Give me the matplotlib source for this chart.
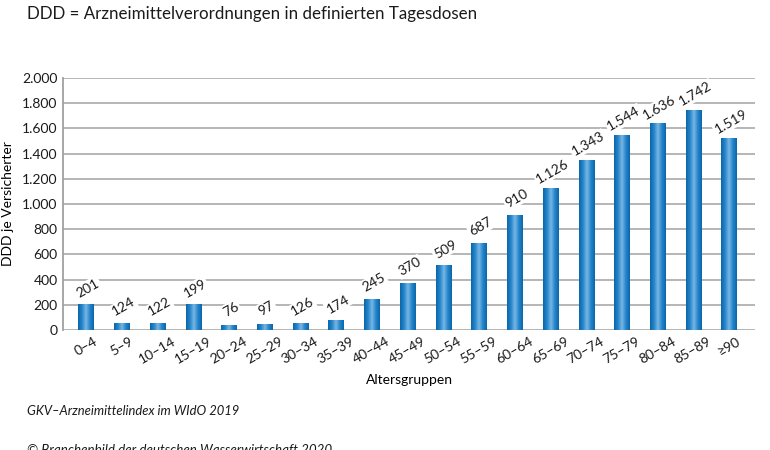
import numpy as np
import matplotlib
matplotlib.use("Agg")
import matplotlib.pyplot as plt
from matplotlib.colors import LinearSegmentedColormap

# ================================================== Data ==============================================================
age_groups = ["0\u20134", "5\u20139", "10\u201314", "15\u201319", "20\u201324", "25\u201329", "30\u201334", "35\u201339",
              "40\u201344", "45\u201349", "50\u201354", "55\u201359", "60\u201364", "65\u201369", "70\u201374", "75\u201379",
              "80\u201384", "85\u201389", "\u226590"]
# heights as drawn in the source picture (the low groups are drawn shorter than their labels)
bar_heights = [201, 53, 52, 199, 32, 41, 53, 74, 245, 370, 509, 687, 910, 1126, 1343, 1544, 1636, 1742, 1519]
value_labels = ["201", "124", "122", "199", "76", "97", "126", "174", "245", "370", "509", "687", "910",
                "1.126", "1.343", "1.544", "1.636", "1.742", "1.519"]
y_ticks = [0, 200, 400, 600, 800, 1000, 1200, 1400, 1600, 1800, 2000]
y_tick_labels = ["0", "200", "400", "600", "800", "1.000", "1.200", "1.400", "1.600", "1.800", "2.000"]

plt.rcParams['font.family'] = ['Lato', 'DejaVu Sans']

fig = plt.figure(figsize=(7.7, 4.5), dpi=100)
ax = fig.add_axes([0.0818, 0.2667, 0.8987, 0.56])

x = np.arange(len(age_groups))
width = 0.42

# Cylinder-like gradient for each bar
cmap = LinearSegmentedColormap.from_list("bluebar", ["#0b66aa", "#2585cb", "#78b8e4", "#2585cb", "#0b66aa"])
gradient = np.linspace(0, 1, 64).reshape(1, -1)
bars = ax.bar(x, bar_heights, width=width, color="#1f7fc4", zorder=2)
for b in bars:
    ax.imshow(gradient, extent=(b.get_x(), b.get_x() + b.get_width(), 0, b.get_height()),
              aspect="auto", cmap=cmap, zorder=3, interpolation="bilinear")

# Value labels
for xi, h, lab in zip(x, bar_heights, value_labels):
    ax.annotate(lab, (xi, h), xytext=(1.5, 12), textcoords="offset points", ha="center", va="center",
                rotation=30, fontsize=10, color="#1a1a1a", zorder=4,
                bbox=dict(boxstyle="square,pad=0.1", fc="white", ec="none"))

ax.set_xlim(-0.64, 18.73)
ax.set_ylim(0, 2000)
ax.set_yticks(y_ticks)
ax.set_yticklabels(y_tick_labels, fontsize=10)
ax.set_xticks(x)
ax.set_xticklabels(age_groups, rotation=30, ha="center", fontsize=10)
ax.tick_params(axis="both", length=0, pad=4, colors="#1a1a1a")
ax.yaxis.grid(True, color="#b0b0b0", linewidth=1.3, zorder=0)
ax.set_axisbelow(True)
for side in ["top", "right", "bottom"]:
    ax.spines[side].set_visible(False)
ax.spines["left"].set_color("#a0a0a0")
ax.spines["left"].set_linewidth(1.3)

ax.set_xlabel("Altersgruppen", fontsize=10, labelpad=6)
ax.set_ylabel("DDD je Versicherter", fontsize=10, labelpad=6)

fig.text(0.035, 0.97, "DDD = Arzneimittelverordnungen in definierten Tagesdosen", fontsize=12.2, va="center",
         color="#1a1a1a")
fig.text(0.035, 0.087, "GKV\u2013Arzneimittelindex im WIdO 2019", fontsize=9.4, style="italic", va="center",
         color="#1a1a1a")
fig.text(0.035, 0.0, "\u00a9 Branchenbild der deutschen Wasserwirtschaft 2020", fontsize=9.6, style="italic",
         va="center", color="#1a1a1a")

plt.savefig("out.png", dpi=100)
